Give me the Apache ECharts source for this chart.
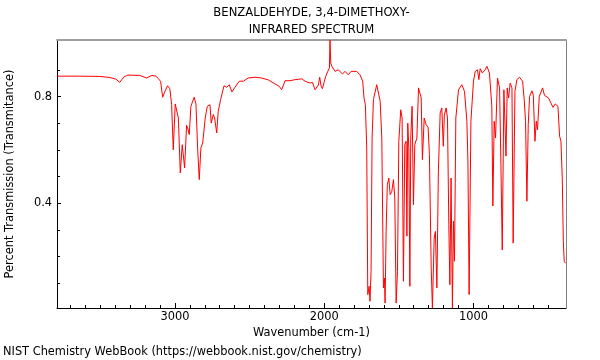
<!DOCTYPE html>
<html>
<head>
<meta charset="utf-8">
<script src="https://cdn.jsdelivr.net/npm/echarts@6/dist/echarts.min.js"></script>
<style>html,body{margin:0;padding:0;background:#fff}#c{width:600px;height:360px}</style>
</head>
<body>
<div id="c"></div>
<script>
// Wavenumber (cm-1) and transmittance
const wavenumbers = [3791,3637,3503,3436,3396,3369,3342,3315,3235,3190,3154,3127,3112,3096,3082,3067,3049,3034,3022,3011,2998,2985,2977,2964,2951,2944,2935,2922,2913,2904,2893,2871,2859,2848,2837,2826,2814,2806,2797,2783,2765,2757,2743,2734,2720,2710,2694,2671,2653,2636,2618,2598,2569,2542,2509,2464,2419,2374,2330,2301,2285,2262,2229,2195,2150,2128,2095,2079,2061,2050,2039,2030,2021,2012,1999,1990,1976,1965,1961,1956,1949,1927,1905,1878,1860,1838,1820,1782,1760,1742,1733,1724,1715,1708,1699,1693,1686,1679,1670,1659,1648,1639,1625,1614,1603,1596,1592,1585,1577,1567,1558,1547,1536,1527,1518,1509,1500,1487,1478,1469,1460,1451,1446,1440,1433,1426,1420,1411,1402,1393,1379,1368,1359,1350,1342,1330,1317,1304,1295,1283,1275,1263,1255,1245,1235,1223,1212,1202,1195,1183,1174,1165,1158,1150,1141,1134,1127,1118,1100,1078,1060,1044,1037,1029,1017,1000,988,973,964,955,940,921,910,893,877,870,861,852,839,825,816,807,796,787,782,774,765,754,742,734,722,709,691,671,660,651,642,633,624,608,599,588,579,571,559,537,524,497,467,452,434,423,414,405,398,392,383];
const transmittance = [0.877,0.877,0.876,0.872,0.866,0.854,0.874,0.881,0.880,0.870,0.880,0.877,0.868,0.858,0.798,0.820,0.841,0.830,0.770,0.601,0.773,0.773,0.720,0.514,0.620,0.615,0.533,0.693,0.679,0.658,0.764,0.798,0.773,0.608,0.489,0.608,0.626,0.626,0.720,0.764,0.770,0.701,0.733,0.720,0.664,0.745,0.789,0.841,0.835,0.845,0.818,0.835,0.858,0.858,0.870,0.873,0.870,0.863,0.848,0.839,0.826,0.860,0.860,0.864,0.867,0.858,0.851,0.854,0.826,0.820,0.844,0.873,0.840,0.830,0.833,0.876,0.895,0.908,1.012,0.926,0.914,0.895,0.901,0.885,0.895,0.882,0.895,0.895,0.882,0.858,0.795,0.770,0.608,0.058,0.089,0.033,0.145,0.645,0.789,0.795,0.845,0.839,0.783,0.645,0.083,0.120,0.026,0.295,0.470,0.495,0.433,0.445,0.489,0.420,0.026,0.145,0.633,0.751,0.720,0.108,0.620,0.633,0.277,0.701,0.608,0.089,0.645,0.764,0.395,0.620,0.645,0.833,0.839,0.795,0.564,0.720,0.695,0.686,0.583,0.158,0.008,0.270,0.295,0.083,0.520,0.739,0.758,0.614,0.730,0.758,0.720,0.320,0.095,0.495,0.008,0.333,0.183,0.720,0.826,0.845,0.820,0.708,0.558,0.058,0.708,0.858,0.895,0.901,0.864,0.905,0.889,0.901,0.914,0.889,0.765,0.390,0.708,0.645,0.870,0.833,0.545,0.225,0.826,0.833,0.577,0.833,0.795,0.851,0.833,0.251,0.820,0.864,0.873,0.858,0.789,0.708,0.408,0.695,0.801,0.822,0.806,0.633,0.708,0.676,0.801,0.833,0.805,0.795,0.760,0.773,0.764,0.652,0.633,0.495,0.258,0.183,0.176];
const xLabels = [3000, 2000, 1000];
const xMinorTicks = [3700,3600,3500,3400,3300,3200,3100,2900,2800,2700,2600,2500,2400,2300,2200,2100,1900,1800,1700,1600,1500,1400,1300,1200,1100,900,800,700,600,500];
const yLabels = [0.4, 0.8];
const yMinorTicks = [0.1,0.2,0.3,0.5,0.6,0.7,0.9];
const titleLines = ['BENZALDEHYDE, 3,4-DIMETHOXY-', 'INFRARED SPECTRUM'];

const X_MIN = 380, X_MAX = 3790, Y_MIN = 0.0077, Y_MAX = 1.0126;
const FONT = 'DejaVu Sans';
const FS = 11.4;
const TFS = 11.6;

const chart = echarts.init(document.getElementById('c'), null, {renderer: 'canvas'});
const baseX = {type: 'value', min: X_MIN, max: X_MAX, inverse: true, splitLine: {show: false}, gridIndex: 0};
const baseY = {type: 'value', min: Y_MIN, max: Y_MAX, splitLine: {show: false}, gridIndex: 0};

chart.setOption({
  animation: false,
  backgroundColor: '#fff',
  grid: {left: 57, right: 34, top: 40, bottom: 52, containLabel: false, outerBoundsMode: 'none'},
  xAxis: [
    Object.assign({}, baseX, {
      position: 'bottom', offset: 0,
      name: 'Wavenumber (cm-1)', nameLocation: 'middle', nameGap: 19,
      nameTextStyle: {fontFamily: FONT, fontSize: FS, color: '#000'},
      axisLine: {show: true, onZero: false, lineStyle: {color: '#000', width: 1}},
      axisTick: {show: true, inside: true, length: 5, customValues: xLabels, lineStyle: {color: '#000'}},
      axisLabel: {show: true, customValues: xLabels, margin: 4, fontFamily: FONT, fontSize: FS, color: '#000',
        formatter: v => String(Math.round(v))}
    }),
    Object.assign({}, baseX, {
      position: 'bottom', offset: 0,
      axisLine: {show: false, onZero: false},
      axisTick: {show: true, inside: true, length: 3, customValues: xMinorTicks, lineStyle: {color: '#000'}},
      axisLabel: {show: false}
    }),
    Object.assign({}, baseX, {
      position: 'top', offset: 0,
      axisLine: {show: true, onZero: false, lineStyle: {color: '#a0a0a0', width: 2}},
      axisTick: {show: false}, axisLabel: {show: false}
    })
  ],
  yAxis: [
    Object.assign({}, baseY, {
      position: 'left', offset: 0,
      name: 'Percent Transmission (Transmitance)', nameLocation: 'middle', nameGap: 41,
      nameTextStyle: {fontFamily: FONT, fontSize: FS, color: '#000'},
      axisLine: {show: true, onZero: false, lineStyle: {color: '#000', width: 1}},
      axisTick: {show: true, inside: true, length: 4, customValues: yLabels, lineStyle: {color: '#000'}},
      axisLabel: {show: true, customValues: yLabels, margin: 5, fontFamily: FONT, fontSize: FS, color: '#000',
        formatter: v => v.toFixed(1)}
    }),
    Object.assign({}, baseY, {
      position: 'left', offset: 0,
      axisLine: {show: false, onZero: false},
      axisTick: {show: true, inside: true, length: 3, customValues: yMinorTicks, lineStyle: {color: '#000'}},
      axisLabel: {show: false}
    }),
    Object.assign({}, baseY, {
      position: 'right', offset: 0,
      axisLine: {show: true, onZero: false, lineStyle: {color: '#808080', width: 1}},
      axisTick: {show: false}, axisLabel: {show: false}
    })
  ],
  graphic: [
    {type: 'text', x: 311.5, y: 13, style: {text: titleLines[0], font: TFS + 'px "' + FONT + '"', fill: '#000', align: 'center', verticalAlign: 'middle'}},
    {type: 'text', x: 311.5, y: 30, style: {text: titleLines[1], font: TFS + 'px "' + FONT + '"', fill: '#000', align: 'center', verticalAlign: 'middle'}},
    {type: 'text', x: 3, y: 352, style: {text: 'NIST Chemistry WebBook (https://webbook.nist.gov/chemistry)', font: FS + 'px "' + FONT + '"', fill: '#000', align: 'left', verticalAlign: 'middle'}}
  ],
  series: [{
    type: 'line',
    xAxisIndex: 0, yAxisIndex: 0,
    data: wavenumbers.map((w, i) => [w, transmittance[i]]),
    showSymbol: false, symbol: 'none',
    lineStyle: {color: '#ff0000', width: 1},
    clip: true, silent: true
  }]
});
</script>
</body>
</html>
